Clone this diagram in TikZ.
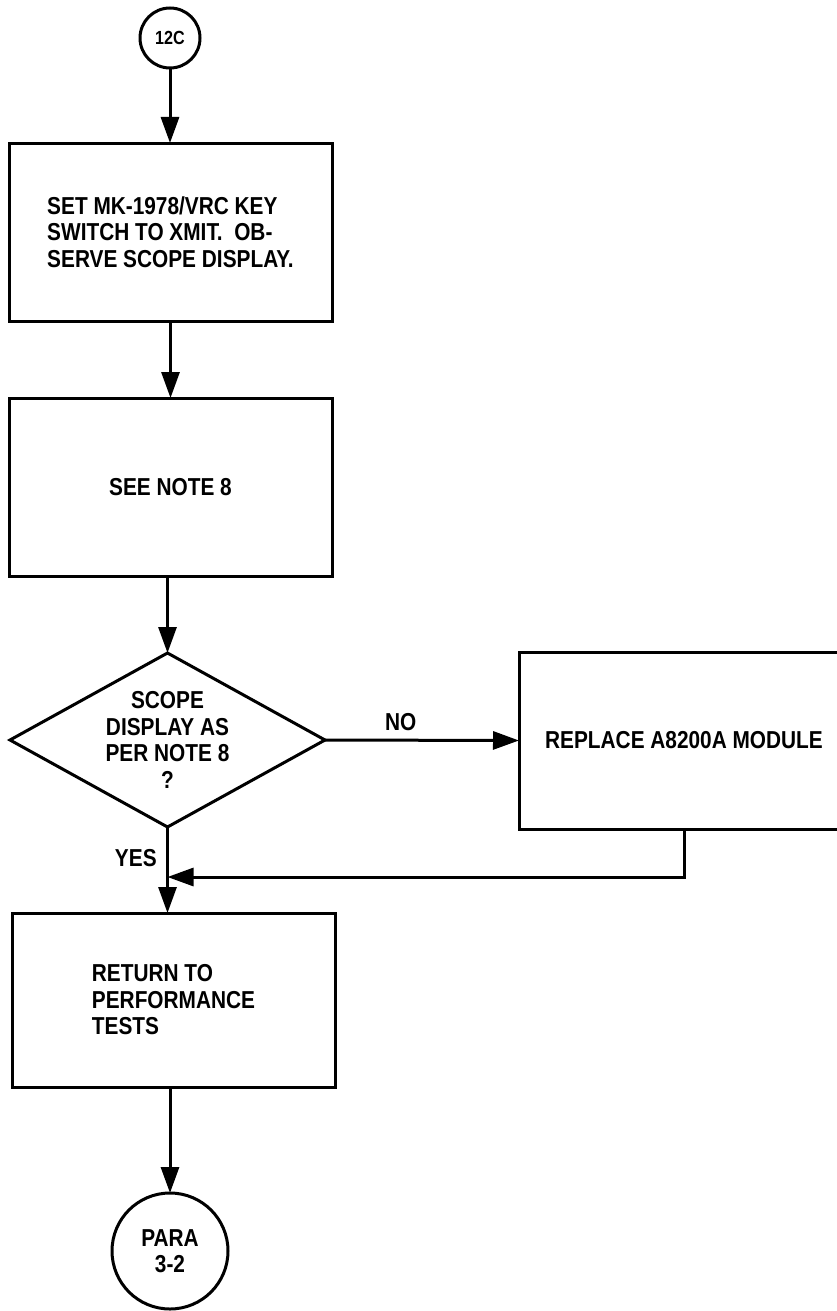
\documentclass[tikz,border=0pt]{standalone}
\usepackage{fontspec}
\setmainfont{Liberation Sans}[FakeStretch=0.85]
\usetikzlibrary{shapes.geometric, arrows.meta, positioning}

\begin{document}
\begin{tikzpicture}[x=1pt, y=-1pt, line width=3pt,
  every node/.style={font=\bfseries\fontsize{24.5}{26.5}\selectfont, outer sep=0pt},
  stepbox/.style={rectangle, draw, minimum width=323pt, minimum height=178pt, align=left},
  term/.style={circle, draw, inner sep=0pt, align=center},
  decision/.style={diamond, draw, aspect=1.8, minimum width=315pt, minimum height=174pt, inner sep=0pt, align=center},
  flow/.style={-{Triangle[width=18pt, length=26pt]}}]
  \clip (0,0) rectangle (837,1311);
  \node[term, minimum size=60pt, font=\bfseries\fontsize{19}{20}\selectfont] (c12) at (170,38) {12C};
  \node[stepbox] (set) at (170.5,232) {SET MK-1978/VRC KEY\\SWITCH TO XMIT.\ \ OB-\\SERVE SCOPE DISPLAY.};
  \node[stepbox] (note) at (170.5,487) {SEE NOTE 8};
  \node[decision] (scope) at (167.5,740) {SCOPE\\DISPLAY AS\\PER NOTE 8\\?};
  \node[stepbox, minimum width=330pt, minimum height=177pt] (repl) at (684,740.5) {REPLACE A8200A MODULE};
  \node[stepbox, minimum height=174pt] (ret) at (173.5,1000) {RETURN TO\\PERFORMANCE\\TESTS};
  \node[term, minimum size=116pt] (para) at (170,1251) {PARA\\3-2};
  \coordinate (join) at (167.5,877);
  % connectors
  \draw[flow] (c12.south) -- (c12.south |- set.north);
  \draw[flow] (set.south) -- (set.south |- note.north);
  \draw[flow] (note.south -| scope.north) -- (scope.north);
  \draw[flow] (scope.east) -- (repl.west) node[pos=0.39, above=6pt] (no) {NO};
  \draw (scope.south) -- (join);
  \draw[flow] (join) -- (join |- ret.north);
  \draw[flow] (repl.south) |- (join);
  \node[anchor=east] (yes) at (160,858) {YES};
  \draw[flow] (ret.south -| para.north) -- (para.north);
\end{tikzpicture}
\end{document}
